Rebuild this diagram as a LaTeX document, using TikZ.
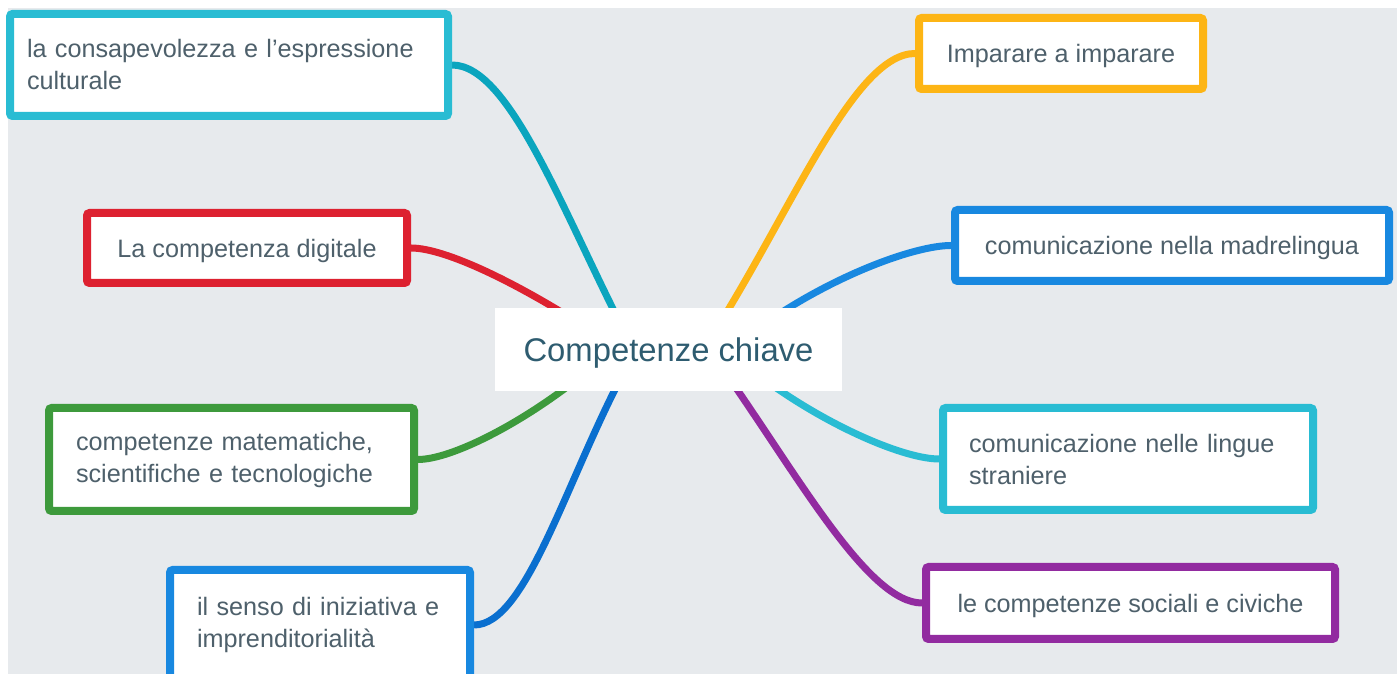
\documentclass[tikz,border=0pt]{standalone}
\usepackage{fontspec}
\setmainfont{Liberation Sans}
\usetikzlibrary{backgrounds}
\definecolor{bgcol}{HTML}{E7EAED}
\definecolor{txtcol}{HTML}{4E606B}
\definecolor{ctrcol}{HTML}{2E5C70}
\definecolor{cyanbox}{HTML}{29BCD3}
\definecolor{cyanline}{HTML}{0AA5BE}
\definecolor{bluebox}{HTML}{1888E0}
\definecolor{blueline}{HTML}{0A6FCF}
\definecolor{redbox}{HTML}{DD2130}
\definecolor{greenbox}{HTML}{3D9A3C}
\definecolor{orangebox}{HTML}{FDB515}
\definecolor{purplebox}{HTML}{922BA0}

\begin{document}
\begin{tikzpicture}[x=0.75pt,y=0.75pt,
    topic/.style={draw=#1,line width=6pt,fill=white,rounded corners=2pt,
      inner sep=0pt,text=txtcol,font=\fontsize{18.9}{24}\selectfont},
    oneline/.style={text height=18pt,text depth=4pt},
    branch/.style={draw=#1,line width=5.25pt,out looseness=1.1,in looseness=0.45}]
  \useasboundingbox (0,0) rectangle (1397,674);

  \path
  (668.5,324.5) node[fill=white,minimum width=260.25pt,minimum height=62.25pt,
    text height=23.5pt,text depth=5pt,
    text=ctrcol,font=\fontsize{24.6}{30}\selectfont](ctr) {Competenze chiave}
  ;
  \path
  (229,609) node[topic=cyanbox,minimum width=328.5pt,minimum height=76.5pt,
    text width=303pt,align=left](cult) {la consapevolezza e l’espressione\\culturale}
  (247,426) node[topic=redbox,oneline,minimum width=240pt,minimum height=52.5pt](digit) {La competenza digitale}
  (231.5,214.5) node[topic=greenbox,minimum width=273.75pt,minimum height=77.25pt,
    text width=233.25pt,align=left](mat) {competenze matematiche,\\scientifiche e tecnologiche}
  (320,49) node[topic=bluebox,minimum width=225pt,minimum height=82.5pt,
    text width=184.5pt,align=left](iniz) {il senso di iniziativa e\\imprenditorialità}
  ;
  \path
  (1061,620.5) node[topic=orangebox,oneline,minimum width=213pt,minimum height=53.25pt](imp) {Imparare a imparare}
  (1172,428.5) node[topic=bluebox,oneline,minimum width=325.5pt,minimum height=53.25pt](madre) {comunicazione nella madrelingua}
  (1128,215) node[topic=cyanbox,minimum width=277.5pt,minimum height=76.5pt,
    text width=238.5pt,align=left](lingue) {comunicazione nelle lingue\\straniere}
  (1130.5,71) node[topic=purplebox,oneline,minimum width=306.75pt,minimum height=54pt](soc) {le competenze sociali e civiche}
  ;
  \path
  (635,322) coordinate (sCult)
  (590,344) coordinate (sDigit)
  (585,301) coordinate (sMat)
  (625,304) coordinate (sIniz)
  (717,346) coordinate (sImp)
  (770,354) coordinate (sMadre)
  (765,294) coordinate (sLingue)
  (725,302) coordinate (sSoc)
  ;

  \begin{pgfonlayer}{background}
    \fill[bgcol] (8,0) rectangle (1397,666);
    \draw[branch=cyanline] (sCult) to[out=118,in=0] (cult.east);
    \draw[branch=redbox] (sDigit) to[out=147,in=0] (digit.east);
    \draw[branch=greenbox] (sMat) to[out=219,in=0] (mat.east);
    \draw[branch=blueline] (sIniz) to[out=242,in=0] (iniz.east);
    \draw[branch=orangebox] (sImp) to[out=58,in=180] (imp.west);
    \draw[branch=bluebox] (sMadre) to[out=34,in=180] (madre.west);
    \draw[branch=cyanbox] (sLingue) to[out=-36,in=180] (lingue.west);
    \draw[branch=purplebox] (sSoc) to[out=-55,in=180] (soc.west);
  \end{pgfonlayer}
\end{tikzpicture}
\end{document}
